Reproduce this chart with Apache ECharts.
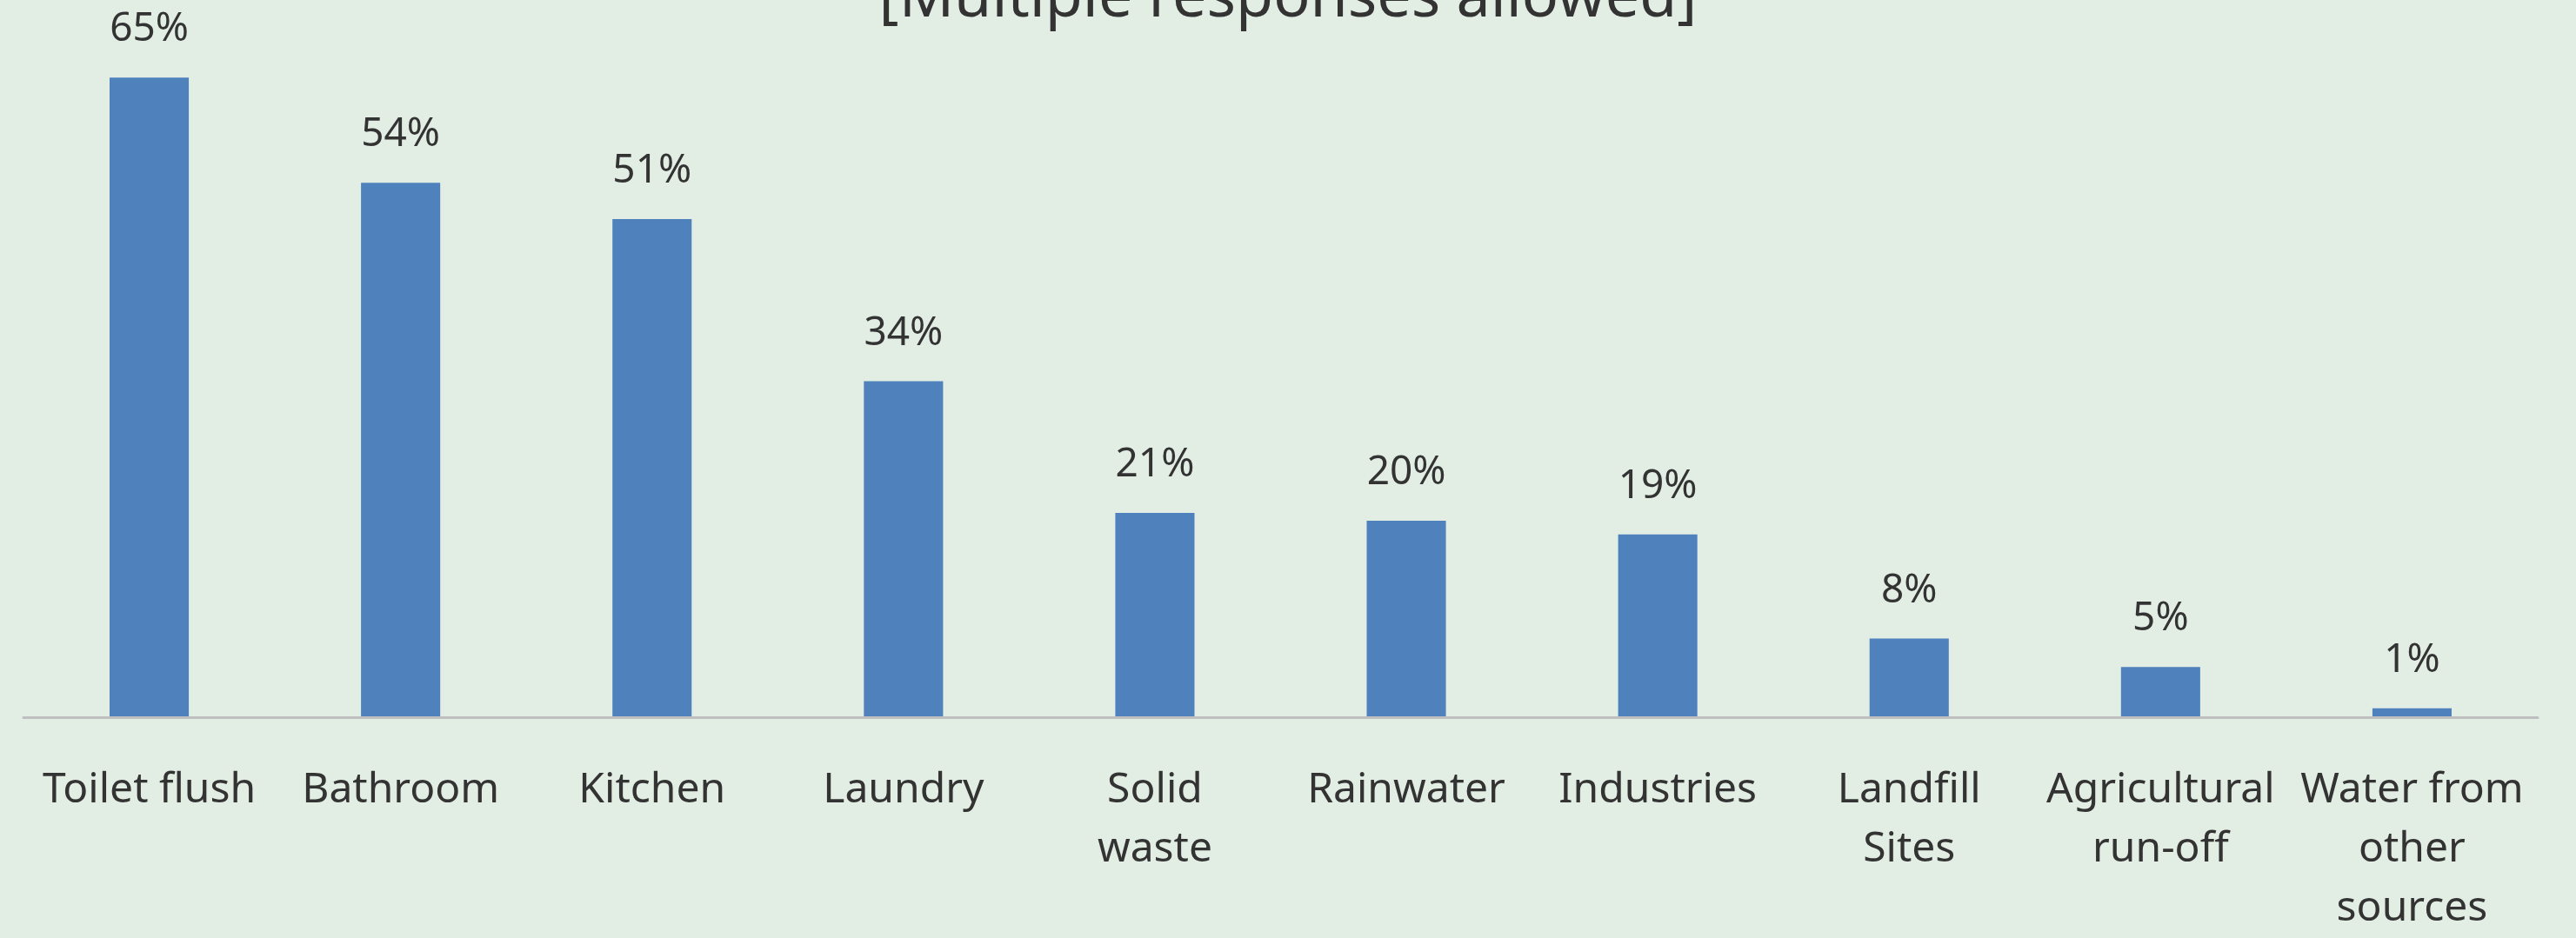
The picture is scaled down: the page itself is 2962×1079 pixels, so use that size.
<!DOCTYPE html>
<html>
<head>
<meta charset="utf-8">
<script src="https://cdn.jsdelivr.net/npm/echarts@6/dist/echarts.min.js"></script>
<style>
html,body{margin:0;padding:0;background:#e2eee4;}
#chart{width:2962px;height:1079px;}
</style>
</head>
<body>
<div id="chart"></div>
<script>
const titleText = '[Multiple responses allowed]';
const categories = ['Toilet flush', 'Bathroom', 'Kitchen', 'Laundry', 'Solid\nwaste', 'Rainwater', 'Industries', 'Landfill\nSites', 'Agricultural\nrun-off', 'Water from\nother\nsources'];
const shares = [65.1, 54.4, 50.7, 34.2, 20.8, 20.0, 18.6, 8.0, 5.1, 0.9];

const chart = echarts.init(document.getElementById('chart'));
chart.setOption({
  backgroundColor: '#e2eee4',
  animation: false,
  title: {
    text: titleText,
    left: 'center',
    top: -41,
    textStyle: { fontFamily: 'Noto Sans', fontSize: 70, fontWeight: 'normal', color: '#333333' }
  },
  grid: { left: 27, right: 44, top: 34, bottom: 243, containLabel: false },
  xAxis: {
    type: 'category',
    data: categories,
    z: 5,
    axisLine: { lineStyle: { color: '#bfbfbf', width: 3 } },
    axisTick: { show: false },
    axisLabel: {
      interval: 0,
      margin: 50,
      fontFamily: 'Noto Sans',
      fontSize: 48,
      lineHeight: 68,
      color: '#333333'
    }
  },
  yAxis: {
    type: 'value',
    min: 0,
    max: 70,
    show: false,
    splitLine: { show: false }
  },
  series: [{
    type: 'bar',
    data: shares,
    barWidth: '31.5%',
    itemStyle: { color: '#4f81bd' },
    label: {
      show: true,
      position: 'top',
      distance: 32,
      fontFamily: 'Noto Sans',
      fontSize: 46,
      color: '#333333',
      formatter: p => Math.round(p.value) + '%'
    }
  }]
});
</script>
</body>
</html>
